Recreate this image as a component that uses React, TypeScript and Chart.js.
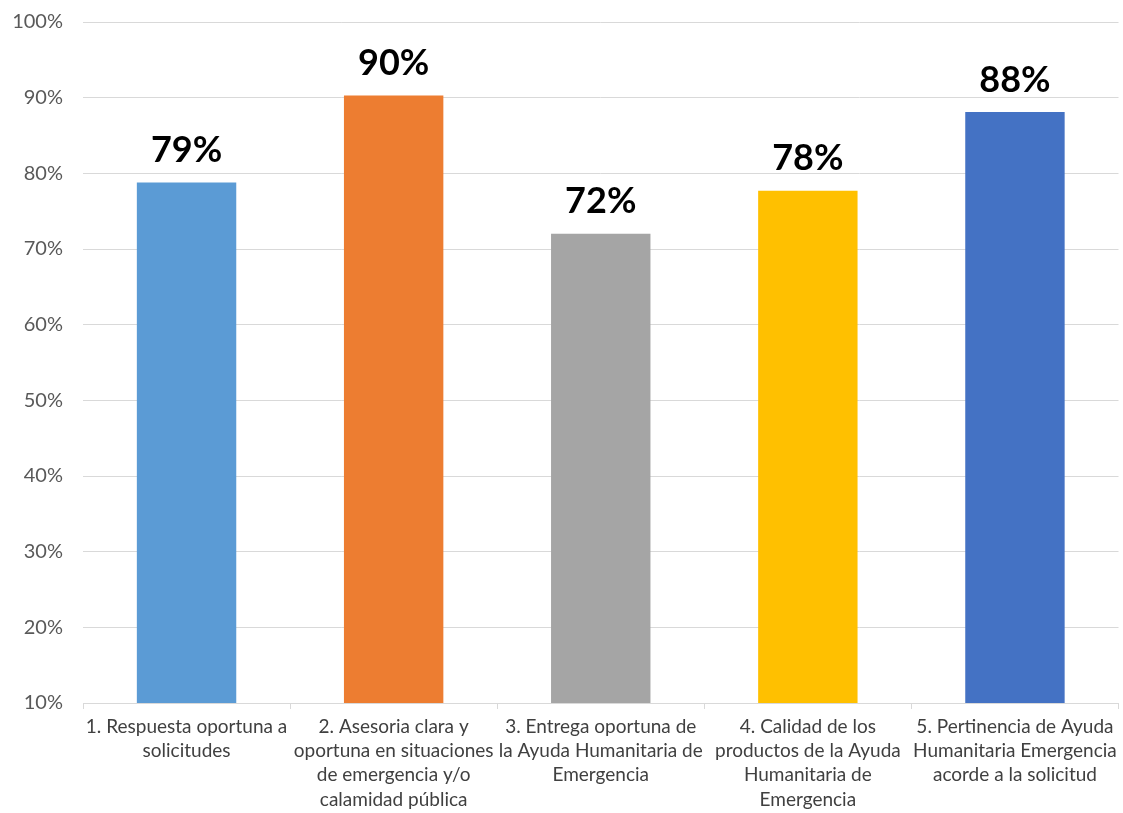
import React, { useEffect, useRef } from "react";
import { Chart, registerables } from "chart.js";

Chart.register(...registerables);

const categories: string[][] = [
  ["1. Respuesta oportuna a", "solicitudes"],
  ["2. Asesoria clara y", "oportuna en situaciones", "de emergencia y/o", "calamidad pública"],
  ["3. Entrega oportuna de", "la Ayuda Humanitaria de", "Emergencia"],
  ["4. Calidad de los", "productos de la Ayuda", "Humanitaria de", "Emergencia"],
  ["5. Pertinencia de Ayuda", "Humanitaria Emergencia", "acorde a la solicitud"],
];
const values: number[] = [78.8, 90.3, 72, 77.7, 88.1];
const valueLabels: string[] = ["79%", "90%", "72%", "78%", "88%"];
const barColors: string[] = ["#5B9BD5", "#ED7D31", "#A5A5A5", "#FFC000", "#4472C4"];
const yMin = 10;
const yMax = 100;
const yStep = 10;

const FONT = "Lato, 'Open Sans', sans-serif";

const dataLabelPlugin = {
  id: "dataLabels",
  afterDatasetsDraw(chart: any) {
    const ctx = chart.ctx;
    const meta = chart.getDatasetMeta(0);
    ctx.save();
    ctx.font = `bold 36px ${FONT}`;
    ctx.fillStyle = "#000000";
    ctx.textAlign = "center";
    ctx.textBaseline = "bottom";
    meta.data.forEach((bar: any, i: number) => {
      ctx.fillText(valueLabels[i], bar.x, bar.y - 14);
    });
    ctx.restore();
  },
};

export default function App() {
  const ref = useRef<HTMLCanvasElement>(null);
  useEffect(() => {
    if (!ref.current) return;
    const chart = new Chart(ref.current, {
      type: "bar",
      data: {
        labels: categories,
        datasets: [
          {
            data: values,
            backgroundColor: barColors,
            borderWidth: 0,
            categoryPercentage: 1,
            barPercentage: 0.48,
          },
        ],
      },
      options: {
        animation: false,
        responsive: false,
        maintainAspectRatio: false,
        layout: { padding: { top: 22, right: 2, left: 0, bottom: 0 } },
        plugins: {
          legend: { display: false },
          tooltip: { enabled: false },
        },
        scales: {
          x: {
            grid: {
              drawOnChartArea: false,
              drawTicks: true,
              tickLength: 6,
              color: "#D9D9D9",
              offset: true,
            },
            border: { color: "#D9D9D9", width: 1 },
            ticks: {
              color: "#404040",
              font: { family: FONT, size: 19, lineHeight: 1.27 },
              padding: 6,
              maxRotation: 0,
              autoSkip: false,
            },
            afterFit: (scale: any) => {
              scale.height = 110;
            },
          },
          y: {
            min: yMin,
            max: yMax,
            grid: { color: "#D9D9D9", drawTicks: false },
            border: { display: false },
            ticks: {
              stepSize: yStep,
              color: "#595959",
              font: { family: FONT, size: 20 },
              padding: 20,
              callback: (v: any) => `${v}%`,
            },
            afterFit: (scale: any) => {
              scale.width = 83;
              scale.paddingTop = 0;
              scale.paddingBottom = 0;
            },
          },
        },
      },
      plugins: [dataLabelPlugin],
    });
    return () => chart.destroy();
  }, []);
  return (
    <div style={{ position: "fixed", left: 0, top: 0, width: 1123, height: 813, background: "#fff" }}>
      <canvas ref={ref} width={1123} height={813} style={{ width: 1123, height: 813 }} />
    </div>
  );
}
